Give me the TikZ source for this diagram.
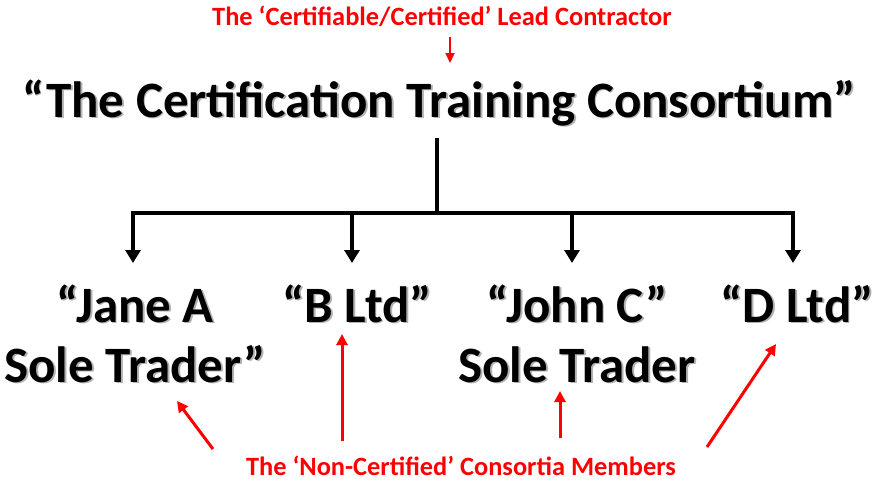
\documentclass[tikz,border=0pt]{standalone}
\usepackage{fontspec}
\setmainfont{Carlito}
\usetikzlibrary{arrows.meta}
\newcommand\shd[1]{\leavevmode\rlap{\hspace{1.8pt}\raisebox{-1.8pt}{\color{black!30}#1}}#1}
\begin{document}
\begin{tikzpicture}[x=1pt,y=-1pt,
  redtext/.style={text=red, font=\bfseries\fontsize{26.4}{30}\selectfont, inner sep=0pt, anchor=base},
  bigtext/.style={text=black, font=\bfseries\fontsize{51}{60}\selectfont, inner sep=0pt, align=center, anchor=base},
  tree/.style={line width=4pt, black},
  treearrow/.style={line width=4pt, black, -{Triangle[width=15pt,length=13pt]}},
  redarrow/.style={line width=3pt, red, -{Triangle[width=11pt,length=11pt]}}]
\useasboundingbox (0,0) rectangle (875,485);
\node[redtext] (lead) at (442,25) {The ‘Certifiable/Certified’ Lead Contractor};
\node[bigtext] (title) at (439,117) {\shd{“The Certification Training Consortium”}};
\node[bigtext] (jane) at (135,382) {\shd{“Jane A}\\\shd{Sole Trader”}};
\node[bigtext] (bltd) at (357,322) {\shd{“B Ltd”}};
\node[bigtext] (john) at (577,382) {\shd{“John C”}\\\shd{Sole Trader}};
\node[bigtext] (dltd) at (797,322) {\shd{“D Ltd”}};
\node[redtext] (members) at (461,475) {The ‘Non-Certified’ Consortia Members};
% tree
\coordinate (bar) at (437,213);
\coordinate (ja) at (133,213);
\coordinate (ba) at (352,213);
\coordinate (jo) at (572,213);
\coordinate (da) at (793,213);
\coordinate (jat) at (133,263);
\coordinate (bat) at (352,263);
\coordinate (jot) at (572,263);
\coordinate (dat) at (793,263);
\draw[tree] (bar |- title.south) ++(0,10) -- (bar);
\draw[tree] ([xshift=-2pt]ja) -- ([xshift=2pt]da);
\draw[treearrow] (ja) -- (jat);
\draw[treearrow] (ba) -- (bat);
\draw[treearrow] (jo) -- (jot);
\draw[treearrow] (da) -- (dat);
% red arrows
\coordinate (leadtail) at (450,37);
\coordinate (leadtip) at (450,63);
\draw[red, line width=2pt, -{Triangle[width=9pt,length=10pt]}] (leadtail) -- (leadtip);
\coordinate (c1) at (213,449); \coordinate (t1) at (177,401);
\coordinate (c2) at (342,441); \coordinate (t2) at (342,334);
\coordinate (c3) at (560,438); \coordinate (t3) at (560,391);
\coordinate (c4) at (707,447); \coordinate (t4) at (776,344);
\draw[redarrow] (c1) -- (t1);
\draw[redarrow] (c2) -- (t2);
\draw[redarrow] (c3) -- (t3);
\draw[redarrow] (c4) -- (t4);
\end{tikzpicture}
\end{document}
